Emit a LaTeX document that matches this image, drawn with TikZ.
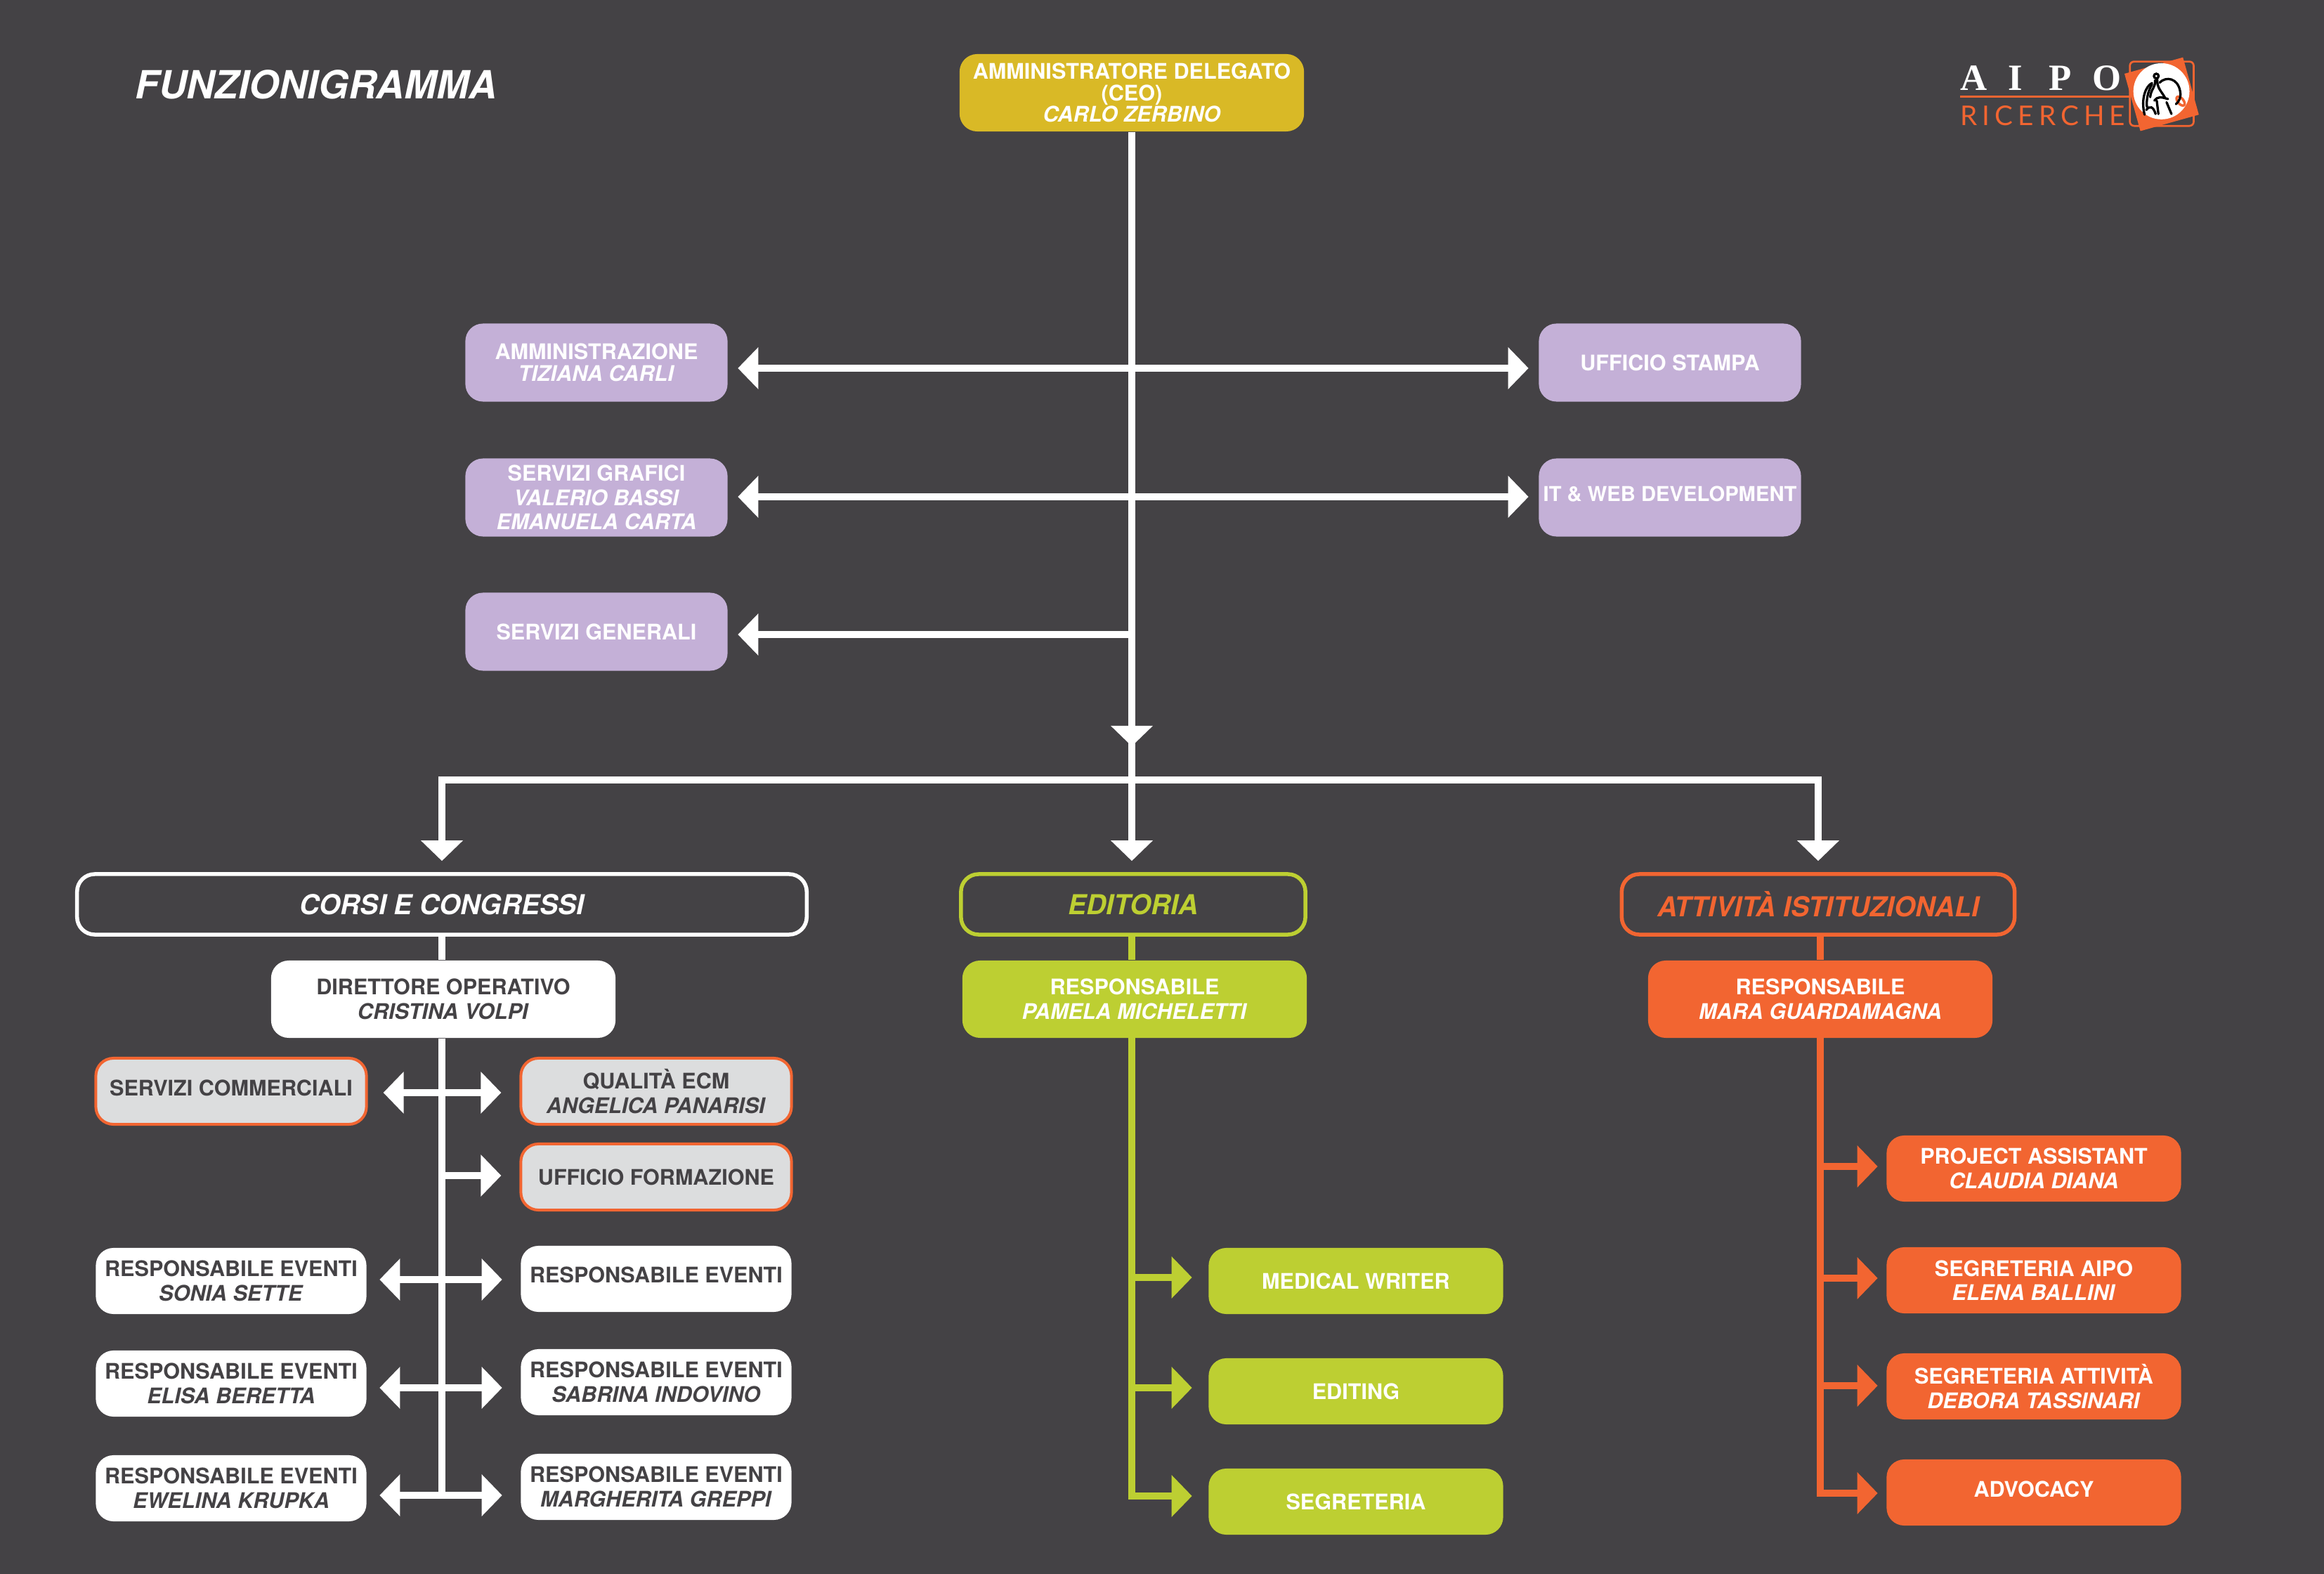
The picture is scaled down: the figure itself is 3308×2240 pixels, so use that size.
\documentclass[tikz,border=0pt]{standalone}
\usepackage{fontspec}
\setmainfont{TeX Gyre Heros}
\newfontfamily\logoserif{Liberation Serif}
\newfontfamily\logosans{Lato}
\usetikzlibrary{arrows.meta}

\definecolor{bgdark}{HTML}{444245}
\definecolor{ceoyellow}{HTML}{D9B926}
\definecolor{staffviolet}{HTML}{C4B0D7}
\definecolor{edigreen}{HTML}{BDCF32}
\definecolor{istorange}{HTML}{F26531}
\definecolor{offgrey}{HTML}{DCDDDE}

\tikzset{
  box/.style={rounded corners=0.25cm, align=center, inner sep=0pt, text=white,
    font=\fontsize{8.7}{9.8}\selectfont\bfseries},
  large/.style={box, minimum width=4.9cm, minimum height=1.1cm},
  staff/.style={box, fill=staffviolet, minimum width=3.73cm, minimum height=1.11cm},
  small/.style={box, minimum width=3.85cm, minimum height=0.94cm},
  task/.style={box, minimum width=4.19cm, minimum height=0.94cm},
  office/.style={small, fill=offgrey, draw=istorange, line width=0.04cm, text=bgdark},
  event/.style={small, fill=white, text=bgdark},
  section/.style={box, draw=#1, text=#1, line width=0.055cm, minimum height=0.86cm,
    font=\fontsize{11.1}{13}\selectfont\bfseries\itshape},
  high/.style={text depth=0.1cm},
  link/.style={line width=0.1cm, draw=#1, -{Triangle[length=0.29cm,width=0.58cm,fill=#1]}},
  both/.style={link=#1, {Triangle[length=0.29cm,width=0.58cm,fill=#1]}-{Triangle[length=0.29cm,width=0.58cm,fill=#1]}},
  line/.style={line width=0.1cm, draw=#1},
}

\begin{document}
\begin{tikzpicture}[x=0.01cm,y=-0.01cm]

\fill[bgdark] (0,0) rectangle (3308,2240);
\useasboundingbox (0,0) rectangle (3308,2240);

\node (title) at (450,120) [text=white, inner sep=0pt, font=\fontsize{15.7}{17}\selectfont\bfseries\itshape] {FUNZIONIGRAMMA};

% top of the chart
\node (ceo) at (1611,132) [large, fill=ceoyellow, font=\fontsize{8.7}{8.6}\selectfont\bfseries] {AMMINISTRATORE DELEGATO\\(CEO)\\\textit{CARLO ZERBINO}};

\node (amm) at (849,516) [staff, font=\fontsize{8.7}{8.8}\selectfont\bfseries] {AMMINISTRAZIONE\\\textit{TIZIANA CARLI}};
\node (gra) at (849,708) [staff] {SERVIZI GRAFICI\\\textit{VALERIO BASSI}\\\textit{EMANUELA CARTA}};
\node (gen) at (849,899) [staff] {SERVIZI GENERALI};
\node (sta) at (2377,516) [staff] {UFFICIO STAMPA};
\node (web) at (2377,708) [staff, high, font=\fontsize{8.3}{9.8}\selectfont\bfseries] {IT \& WEB DEVELOPMENT};

\coordinate (j1) at (1611,524);
\coordinate (j2) at (1611,707);
\coordinate (j3) at (1611,903);
\coordinate (stop) at (1611,1062);
\coordinate (split) at (1611,1110);

\draw[line=white] (ceo) -- (split);
\draw[link=white] (j3) -- (stop);
\draw[both=white, shorten <=0.14cm, shorten >=0.14cm] (j1 -| amm.east) -- (j1 -| sta.west);
\draw[both=white, shorten <=0.14cm, shorten >=0.14cm] (j2 -| gra.east) -- (j2 -| web.west);
\draw[link=white, shorten >=0.14cm] (j3) -- (j3 -| gen.east);

% the three sections
\node (cor) at (629,1287) [section=white, minimum width=10.38cm] {CORSI E CONGRESSI};
\node (edi) at (1613,1287) [section=edigreen, minimum width=4.9cm] {EDITORIA};
\node (att) at (2588,1287) [section=istorange, minimum width=5.59cm] {ATTIVITÀ ISTITUZIONALI};

\draw[link=white, shorten >=0.16cm] (split) -| (cor.north);
\draw[link=white, shorten >=0.16cm] (split) -- (split |- edi.north);
\draw[link=white, shorten >=0.16cm] (split) -| (att.north);

\node (dir) at (631,1422) [large, fill=white, text=bgdark] {DIRETTORE OPERATIVO\\\textit{CRISTINA VOLPI}};
\node (red) at (1615,1422) [large, fill=edigreen] {RESPONSABILE\\\textit{PAMELA MICHELETTI}};
\node (ris) at (2591,1422) [large, fill=istorange] {RESPONSABILE\\\textit{MARA GUARDAMAGNA}};

% corsi e congressi
\node (com) at (329,1553) [office, high] {SERVIZI COMMERCIALI};
\node (qua) at (934,1553) [office] {QUALITÀ ECM\\\textit{ANGELICA PANARISI}};
\node (frm) at (934,1675) [office] {UFFICIO FORMAZIONE};
\node (ev1) at (329,1823) [event] {RESPONSABILE EVENTI\\\textit{SONIA SETTE}};
\node (ev2) at (934,1820) [event, text depth=0.12cm] {RESPONSABILE EVENTI};
\node (ev3) at (329,1969) [event] {RESPONSABILE EVENTI\\\textit{ELISA BERETTA}};
\node (ev4) at (934,1967) [event] {RESPONSABILE EVENTI\\\textit{SABRINA INDOVINO}};
\node (ev5) at (329,2118) [event] {RESPONSABILE EVENTI\\\textit{EWELINA KRUPKA}};
\node (ev6) at (934,2116) [event] {RESPONSABILE EVENTI\\\textit{MARGHERITA GREPPI}};

\coordinate (c1) at (629,1555);
\coordinate (c2) at (629,1673);
\coordinate (c3) at (629,1821);
\coordinate (c4) at (629,1975);
\coordinate (c5) at (629,2128);

\draw[line=white] (cor.south) -- (dir.north -| cor.south);
\draw[line=white] (dir.south -| c1) -- (c5);
\draw[both=white, shorten <=0.22cm, shorten >=0.26cm] (c1 -| com.east) -- (c1 -| qua.west);
\draw[link=white, shorten >=0.26cm] (c2) -- (c2 -| frm.west);
\draw[both=white, shorten <=0.18cm, shorten >=0.26cm] (c3 -| ev1.east) -- (c3 -| ev2.west);
\draw[both=white, shorten <=0.18cm, shorten >=0.26cm] (c4 -| ev3.east) -- (c4 -| ev4.west);
\draw[both=white, shorten <=0.18cm, shorten >=0.26cm] (c5 -| ev5.east) -- (c5 -| ev6.west);

% editoria
\node (med) at (1930,1823) [task, fill=edigreen] {MEDICAL WRITER};
\node (edt) at (1930,1980) [task, fill=edigreen] {EDITING};
\node (seg) at (1930,2137) [task, fill=edigreen] {SEGRETERIA};

\coordinate (e0) at (1611,1477);
\coordinate (e1) at (1611,1818);
\coordinate (e2) at (1611,1975);
\coordinate (e3) at (1611,2129);

\draw[line=edigreen] (edi.south -| e0) -- (red.north -| e0);
\draw[link=edigreen, shorten >=0.23cm] (e1) -- (e1 -| med.west);
\draw[link=edigreen, shorten >=0.23cm] (e2) -- (e2 -| edt.west);
\draw[link=edigreen, shorten >=0.23cm] (e0) |- (e3 -| seg.west);

% attivita istituzionali
\node (pro) at (2895,1663) [task, fill=istorange] {PROJECT ASSISTANT\\\textit{CLAUDIA DIANA}};
\node (aip) at (2895,1822) [task, fill=istorange] {SEGRETERIA AIPO\\\textit{ELENA BALLINI}};
\node (seat) at (2895,1973) [task, fill=istorange] {SEGRETERIA ATTIVITÀ\\\textit{DEBORA TASSINARI}};
\node (adv) at (2895,2124) [task, fill=istorange, high] {ADVOCACY};

\coordinate (a0) at (2591,1477);
\coordinate (a1) at (2591,1660);
\coordinate (a2) at (2591,1819);
\coordinate (a3) at (2591,1972);
\coordinate (a4) at (2591,2125);

\draw[line=istorange] (att.south -| a0) -- (ris.north -| a0);
\draw[link=istorange, shorten >=0.12cm] (a1) -- (a1 -| pro.west);
\draw[link=istorange, shorten >=0.12cm] (a2) -- (a2 -| aip.west);
\draw[link=istorange, shorten >=0.12cm] (a3) -- (a3 -| seat.west);
\draw[link=istorange, shorten >=0.12cm] (a0) |- (a4 -| adv.west);

% logo
\node (aipo) at (2790,129) [anchor=base west, inner sep=0pt, text=white, font=\logoserif\fontsize{15}{15}\selectfont\bfseries] {A\hspace{0.30cm}I\hspace{0.37cm}P\hspace{0.30cm}O};
\node (ric) at (2790,179) [anchor=base west, inner sep=0pt, text=istorange, font=\logosans\fontsize{11}{11}\selectfont] {R\hspace{0.07cm}I\hspace{0.07cm}C\hspace{0.07cm}E\hspace{0.07cm}R\hspace{0.07cm}C\hspace{0.07cm}H\hspace{0.07cm}E};
\coordinate (rule) at (2790,138);
\coordinate (ruleend) at (3032,138);
\draw[istorange, line width=0.03cm] (rule) -- (ruleend);

\begin{scope}[shift={(3020,75)}, x=0.003333cm, y=-0.003333cm]
\draw[istorange, line width=0.027cm, rounded corners=0.06cm] (35,38) rectangle (308,313);
\fill[istorange] (12,90) -- (262,20) -- (330,265) -- (80,335) -- cycle;
\fill[white] (170,165) circle (120);
\draw[istorange, line width=0.035cm, rotate around={-50:(252,207)}] (252,207) ellipse (23 and 12);
\begin{scope}[black, line width=0.033cm, line cap=round]
\draw (148,100) circle (10);
\draw (162,128) .. controls (190,100) and (240,108) .. (250,165) .. controls (255,190) and (245,210) .. (232,220);
\draw (130,130) .. controls (105,140) and (80,195) .. (98,265);
\draw (130,135) .. controls (112,165) and (105,200) .. (108,232);
\draw (143,118) .. controls (145,150) and (125,155) .. (122,190);
\draw (152,114) .. controls (150,150) and (170,165) .. (185,192);
\draw (140,205) .. controls (155,185) and (170,190) .. (198,198);
\draw (105,245) .. controls (120,225) and (135,230) .. (145,262);
\draw (150,205) -- (157,262);
\draw (192,212) -- (213,262);
\end{scope}
\end{scope}

\end{tikzpicture}
\end{document}
